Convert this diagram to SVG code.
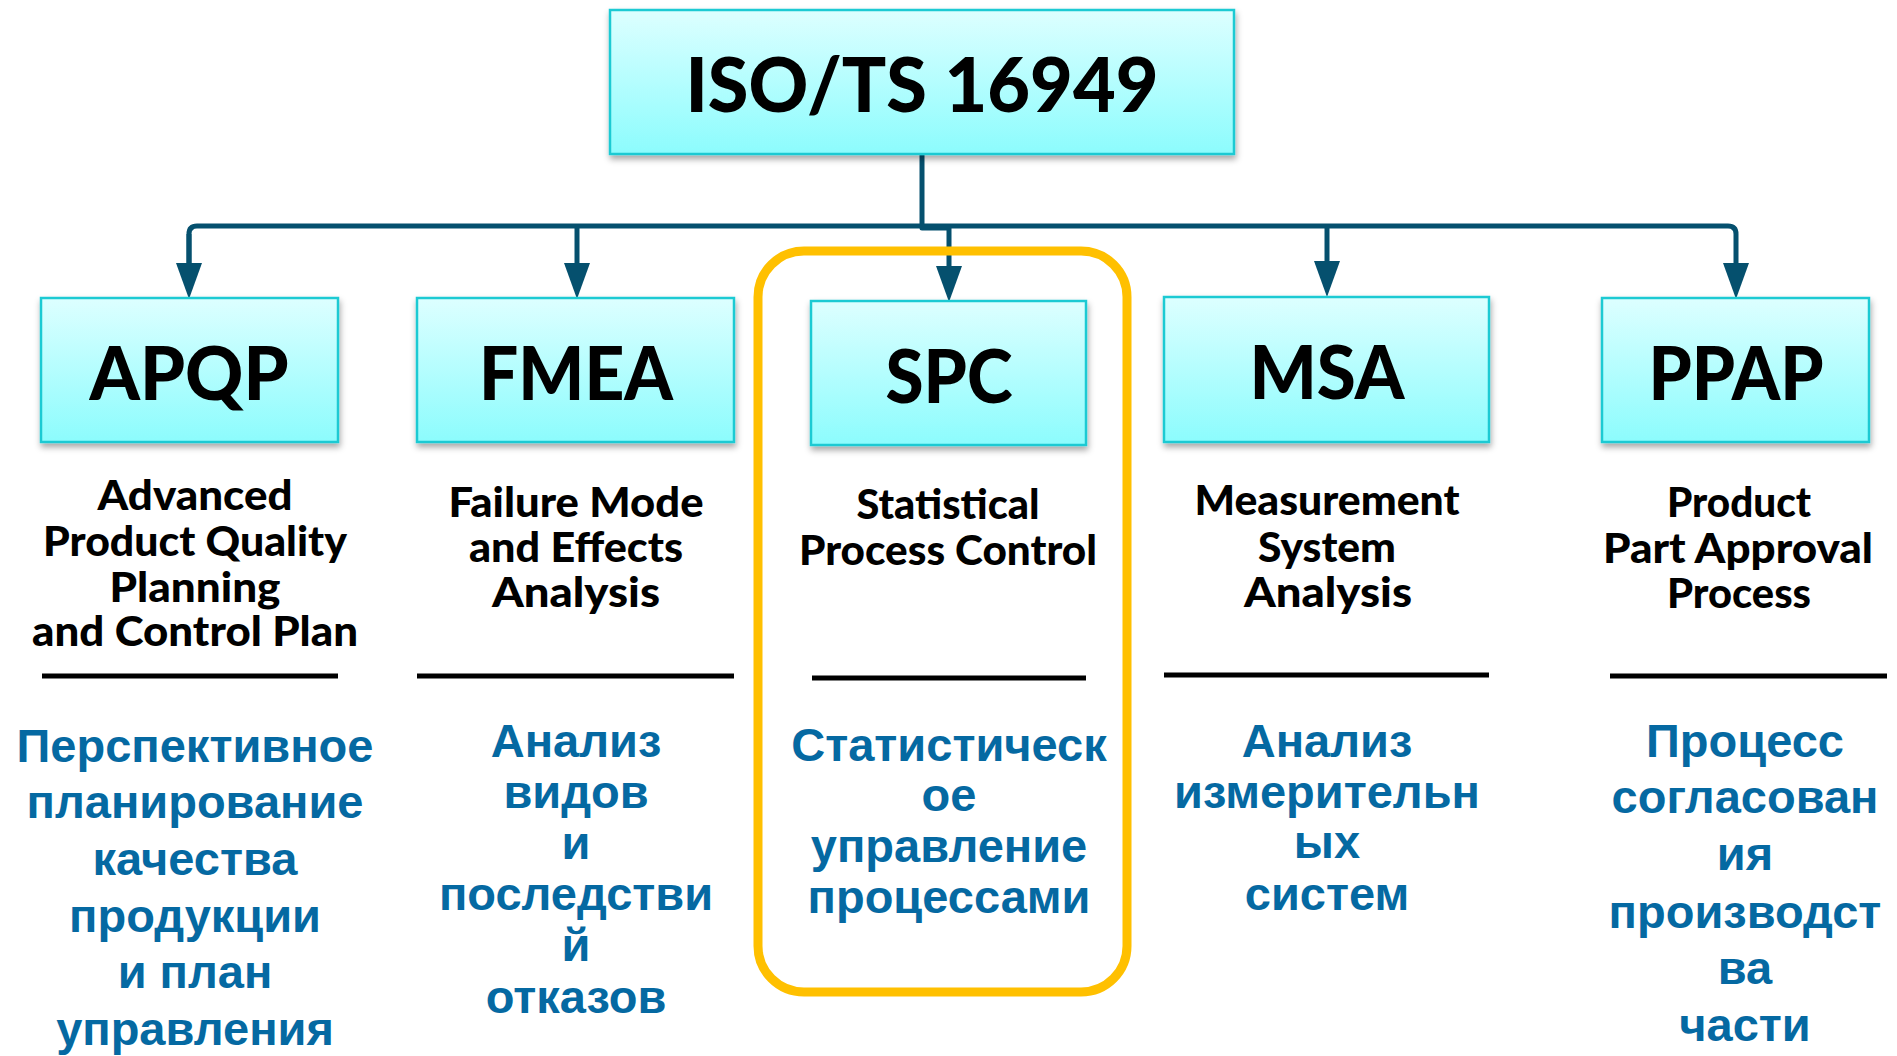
<svg xmlns="http://www.w3.org/2000/svg" width="1897" height="1056" viewBox="0 0 1897 1056">
<defs>
<linearGradient id="boxGrad" x1="0" y1="0" x2="0" y2="1">
<stop offset="0" stop-color="#DDFFFF"/>
<stop offset="1" stop-color="#8CFCFD"/>
</linearGradient>
<filter id="shadow" x="-10%" y="-10%" width="120%" height="130%">
<feDropShadow dx="1" dy="4" stdDeviation="3" flood-color="#000" flood-opacity="0.35"/>
</filter>
<marker id="arrow" markerUnits="userSpaceOnUse" markerWidth="36" markerHeight="26" viewBox="0 0 36 26" refX="0" refY="13" orient="auto">
<path d="M0,0 L36,13 L0,26 Z" fill="#05506E"/>
</marker>
<style>
.box{fill:url(#boxGrad);stroke:#1FCAD3;stroke-width:2.5;filter:url(#shadow)}
.abbr{font-family:Lato,"Liberation Sans",sans-serif;font-weight:900;font-size:74px;fill:#000;text-anchor:middle}
.title{font-family:Lato,"Liberation Sans",sans-serif;font-weight:900;font-size:76px;fill:#000;text-anchor:middle}
.desc{font-family:Lato,"Liberation Sans",sans-serif;font-weight:900;font-size:41px;fill:#000;text-anchor:middle}
.ru{font-family:"Liberation Sans",Arial,sans-serif;font-weight:700;font-size:47px;fill:#0569A2;text-anchor:middle}
.rule{stroke:#000;stroke-width:5}
.conn{fill:none;stroke:#05506E;stroke-width:5;stroke-linejoin:round}
</style>
</defs>

<g id="connectors">
<path class="conn" d="M189,263 L189,234 Q189,226 197,226 L1728,226 Q1736,226 1736,234 L1736,263" marker-end="url(#arrow)"/>
<path class="conn" d="M189,234 L189,263" marker-end="url(#arrow)"/>
<path class="conn" d="M577,226 L577,263" marker-end="url(#arrow)"/>
<path class="conn" d="M1327,226 L1327,261" marker-end="url(#arrow)"/>
<path class="conn" d="M922,154 L922,228 L949,228 L949,266" marker-end="url(#arrow)"/>
</g>

<g id="spc-highlight">
<rect x="758" y="251" width="369" height="741" rx="46" ry="46" fill="none" stroke="#FFC000" stroke-width="9"/>
</g>

<g id="iso">
<rect class="box" x="610" y="10" width="624" height="144"/>
<text class="title" x="922" y="112" textLength="473" lengthAdjust="spacingAndGlyphs">ISO/TS 16949</text>
</g>

<g id="apqp">
<rect class="box" x="41" y="298" width="297" height="144"/>
<text class="abbr" x="189" y="400" textLength="199" lengthAdjust="spacingAndGlyphs">APQP</text>
<text class="desc" x="195" y="510" textLength="195" lengthAdjust="spacingAndGlyphs">Advanced</text>
<text class="desc" x="195" y="556" textLength="304" lengthAdjust="spacingAndGlyphs">Product Quality</text>
<text class="desc" x="195" y="602" textLength="171" lengthAdjust="spacingAndGlyphs">Planning</text>
<text class="desc" x="195" y="646" textLength="326" lengthAdjust="spacingAndGlyphs">and Control Plan</text>
<line class="rule" x1="42" y1="676" x2="338" y2="676"/>
<text class="ru" x="195" y="762">Перспективное</text>
<text class="ru" x="195" y="818">планирование</text>
<text class="ru" x="195" y="875">качества</text>
<text class="ru" x="195" y="932">продукции</text>
<text class="ru" x="195" y="988">и план</text>
<text class="ru" x="195" y="1045">управления</text>
</g>

<g id="fmea">
<rect class="box" x="417" y="298" width="317" height="144"/>
<text class="abbr" x="576" y="400" textLength="194" lengthAdjust="spacingAndGlyphs">FMEA</text>
<text class="desc" x="576" y="517" textLength="255" lengthAdjust="spacingAndGlyphs">Failure Mode</text>
<text class="desc" x="576" y="562" textLength="214" lengthAdjust="spacingAndGlyphs">and Effects</text>
<text class="desc" x="576" y="607" textLength="168" lengthAdjust="spacingAndGlyphs">Analysis</text>
<line class="rule" x1="417" y1="676" x2="734" y2="676"/>
<text class="ru" x="576" y="757">Анализ</text>
<text class="ru" x="576" y="808">видов</text>
<text class="ru" x="576" y="859">и</text>
<text class="ru" x="576" y="910">последстви</text>
<text class="ru" x="576" y="961">й</text>
<text class="ru" x="576" y="1013">отказов</text>
</g>

<g id="spc">
<rect class="box" x="811" y="301" width="275" height="144"/>
<text class="abbr" x="949" y="403" textLength="127" lengthAdjust="spacingAndGlyphs">SPC</text>
<text class="desc" x="948" y="519" textLength="183" lengthAdjust="spacingAndGlyphs">Statistical</text>
<text class="desc" x="948" y="565" textLength="298" lengthAdjust="spacingAndGlyphs">Process Control</text>
<line class="rule" x1="812" y1="678" x2="1086" y2="678"/>
<text class="ru" x="949" y="761">Статистическ</text>
<text class="ru" x="949" y="811">ое</text>
<text class="ru" x="949" y="862">управление</text>
<text class="ru" x="949" y="913">процессами</text>
</g>

<g id="msa">
<rect class="box" x="1164" y="297" width="325" height="145"/>
<text class="abbr" x="1327" y="399" textLength="155" lengthAdjust="spacingAndGlyphs">MSA</text>
<text class="desc" x="1327" y="515" textLength="265" lengthAdjust="spacingAndGlyphs">Measurement</text>
<text class="desc" x="1327" y="562" textLength="138" lengthAdjust="spacingAndGlyphs">System</text>
<text class="desc" x="1328" y="607" textLength="168" lengthAdjust="spacingAndGlyphs">Analysis</text>
<line class="rule" x1="1164" y1="675" x2="1489" y2="675"/>
<text class="ru" x="1327" y="757">Анализ</text>
<text class="ru" x="1327" y="808">измерительн</text>
<text class="ru" x="1327" y="858">ых</text>
<text class="ru" x="1327" y="910">систем</text>
</g>

<g id="ppap">
<rect class="box" x="1602" y="298" width="267" height="144"/>
<text class="abbr" x="1736" y="400" textLength="175" lengthAdjust="spacingAndGlyphs">PPAP</text>
<text class="desc" x="1739" y="517" textLength="144" lengthAdjust="spacingAndGlyphs">Product</text>
<text class="desc" x="1738" y="563" textLength="270" lengthAdjust="spacingAndGlyphs">Part Approval</text>
<text class="desc" x="1739" y="608" textLength="144" lengthAdjust="spacingAndGlyphs">Process</text>
<line class="rule" x1="1610" y1="676" x2="1887" y2="676"/>
<text class="ru" x="1745" y="757">Процесс</text>
<text class="ru" x="1745" y="813">согласован</text>
<text class="ru" x="1745" y="870">ия</text>
<text class="ru" x="1745" y="928">производст</text>
<text class="ru" x="1745" y="984">ва</text>
<text class="ru" x="1745" y="1041">части</text>
</g>
</svg>
